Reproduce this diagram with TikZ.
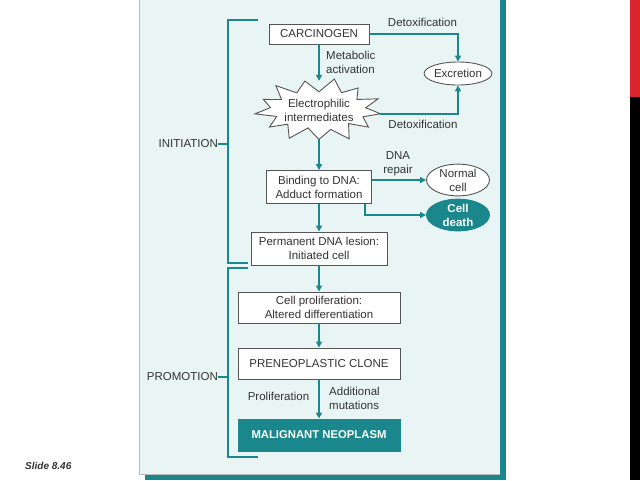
\documentclass[tikz,border=0pt]{standalone}
\usepackage{fontspec}
\setmainfont{Liberation Sans}
\usetikzlibrary{arrows.meta,shapes.geometric,calc}
\definecolor{tealc}{HTML}{1A878C}
\definecolor{panelbg}{HTML}{E9F5F5}
\definecolor{boxline}{HTML}{555555}
\definecolor{txt}{HTML}{333333}
\definecolor{slidered}{HTML}{D9262E}
\begin{document}
\begin{tikzpicture}[x=1pt,y=-1pt,
  every node/.style={font=\fontsize{11.5}{14}\selectfont, text=txt},
  box/.style={draw=boxline, line width=0.9pt, fill=white, align=center, inner sep=2pt},
  oval/.style={ellipse, draw=boxline, line width=0.9pt, fill=white, align=center, inner sep=0pt},
  lbl/.style={align=center, inner sep=0pt},
  arr/.style={draw=tealc, line width=1.8pt, -{Triangle[length=6pt,width=6pt]}},
  brk/.style={draw=tealc, line width=1.6pt},
  burst/.style={draw=boxline, line width=0.9pt, fill=white, line join=miter}
]
\useasboundingbox (0,0) rectangle (640,480);
\fill[white] (0,0) rectangle (640,480);
% panel with shadow
\fill[tealc] (145,0) rectangle (506,480);
\fill[panelbg] (139,0) rectangle (500,474);
\draw[boxline!40, line width=0.5pt] (139,0) -- (139,474) -- (500,474);
% right bar
\fill[slidered] (630,0) rectangle (640,97);
\fill[black] (630,97) rectangle (640,480);

% starburst outline
\coordinate (sc) at (319,110);
\draw[burst] ($(sc)+({62*cos(7)},{31*sin(7)})$)
  \foreach \k/\r/\q in {0/0.97/1.0, 1/1.05/0.95, 2/0.95/1.05, 3/1.03/0.97, 4/0.97/1.0, 5/1.04/0.96,
     6/0.96/1.04, 7/1.05/0.97, 8/0.96/1.02, 9/1.03/0.96, 10/0.95/1.03, 11/1.02/0.98, 12/1.0/1.0}
  { -- ($(sc)+({\q*47*cos(20.846+\k*27.692)},{\q*19*sin(20.846+\k*27.692)})$)
    -- ($(sc)+({\r*62*cos(34.692+\k*27.692)},{\r*31*sin(34.692+\k*27.692)})$) } -- cycle;

% nodes
\node[box, minimum width=100pt, minimum height=20pt] (carc) at (319,34) {CARCINOGEN};
\node[align=center, inner sep=0pt, minimum width=122pt, minimum height=58pt] (star) at (sc)
      {Electrophilic\\intermediates};
\node[oval, minimum width=63pt, minimum height=23pt] (exc) at (458,73.5) {Excretion};
\node[box, minimum width=105pt, minimum height=33pt] (bind) at (319,187) {Binding to DNA:\\Adduct formation};
\node[oval, minimum width=63pt, minimum height=30pt] (normal) at (458,180) {Normal\\cell};
\node[oval, fill=tealc, draw=tealc, text=white, font=\fontsize{11.5}{14}\selectfont\bfseries,
      minimum width=63pt, minimum height=30pt] (death) at (458,215) {Cell\\death};
\node[box, minimum width=136pt, minimum height=33pt] (perm) at (319,248.5) {Permanent DNA lesion:\\Initiated cell};
\node[box, minimum width=162pt, minimum height=31pt] (prolif) at (319,307.5) {Cell proliferation:\\Altered differentiation};
\node[box, minimum width=162pt, minimum height=31pt] (pre) at (319,363.5) {PRENEOPLASTIC CLONE};
\node[box, fill=tealc, draw=tealc, text=white, font=\fontsize{11.3}{14}\selectfont\bfseries,
      minimum width=162pt, minimum height=32pt] (mal) at (319,435) {MALIGNANT NEOPLASM};

% labels
\node[lbl] (detox1) at (422.5,22) {Detoxification};
\node[lbl, anchor=west, align=left] (meta) at (326,62.5) {Metabolic\\activation};
\node[lbl] (detox2) at (423,124) {Detoxification};
\node[lbl] (repair) at (398,163.5) {DNA\\repair};
\node[lbl] (prolab) at (278.5,396) {Proliferation};
\node[lbl, anchor=west, align=left] (addmut) at (329,398) {Additional\\mutations};
\node[lbl, anchor=east] (init) at (218,144) {INITIATION};
\node[lbl, anchor=east] (promo) at (218,377) {PROMOTION};
\node[lbl, anchor=west, font=\fontsize{10}{12}\selectfont\bfseries\itshape, text=txt] (slide) at (25,466) {Slide 8.46};

% brackets
\coordinate (ib) at (228,144);
\coordinate (pb) at (228,377);
\draw[brk] (258,20) -- (228,20) -- (228,263) -- (248,263);
\draw[brk] (248,268) -- (228,268) -- (228,457) -- (258,457);
\draw[brk] (init.east) -- (ib);
\draw[brk] (promo.east) -- (pb);

% connectors
\draw[arr] (carc.east) -| (exc.north);
\draw[arr] (carc.south) -- (star.north);
\draw[arr] ([yshift=-4pt]star.east) -| (exc.south);
\draw[arr] (star.south) -- (bind.north);
\draw[arr] ([yshift=7pt]bind.east) -- (normal.west);
\draw[arr] ([xshift=-7pt]bind.south east) |- (death.west);
\draw[arr] (bind.south) -- (perm.north);
\draw[arr] (perm.south) -- (prolif.north);
\draw[arr] (prolif.south) -- (pre.north);
\draw[arr] (pre.south) -- (mal.north);
\end{tikzpicture}
\end{document}
